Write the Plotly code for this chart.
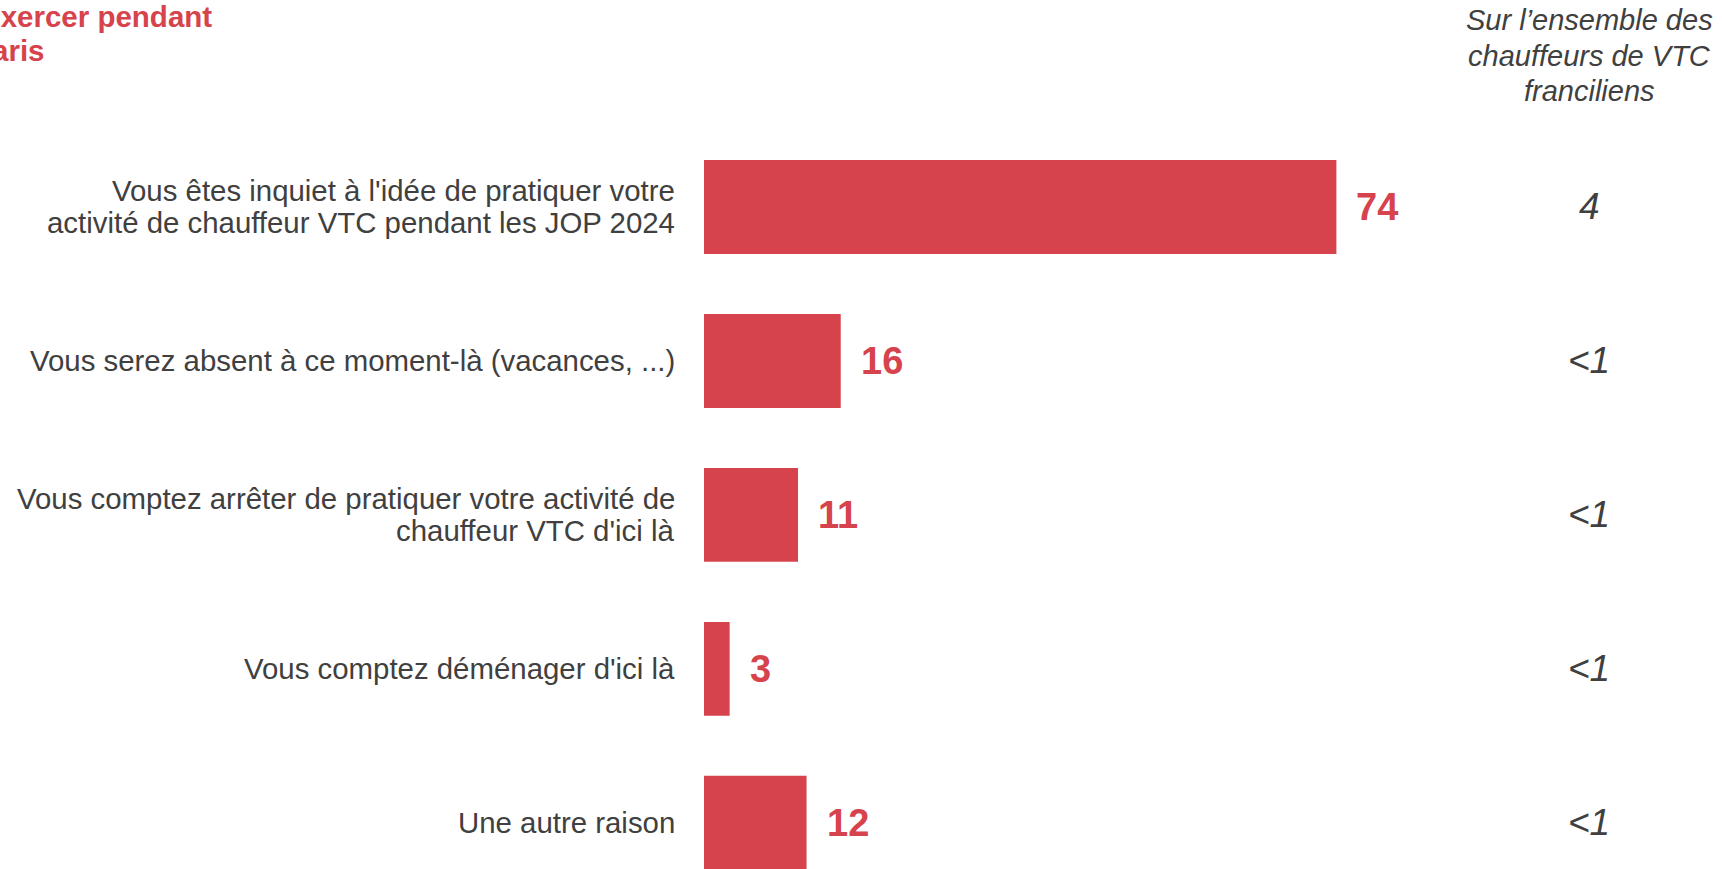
import plotly.graph_objects as go

categories = [
    "Vous êtes inquiet à l'idée de pratiquer votre<br>activité de chauffeur VTC pendant les JOP 2024",
    "Vous serez absent à ce moment-là (vacances, ...)",
    "Vous comptez arrêter de pratiquer votre activité de<br>chauffeur VTC d'ici là",
    "Vous comptez déménager d'ici là",
    "Une autre raison",
]
values = [74, 16, 11, 3, 12]
ensemble = ["4", "<1", "<1", "<1", "<1"]
header = ["Sur l’ensemble des", "chauffeurs de VTC", "franciliens"]
title = ["Raisons de ne pas exercer pendant", "les JOP 2024 à Paris"]

red = "#D6434C"
grey = "#404040"
font = "Liberation Sans"

W, H = 1722, 869
L, T = 703.5, 130
px_per_unit = 8.55
plot_w = W - L
plot_h = H - T


def py(ypx):
    # pixel row -> paper y
    return (H - ypx) / plot_h


def px(xpx):
    return (xpx - L) / plot_w


fig = go.Figure()
fig.add_trace(go.Bar(
    x=values, y=list(range(len(categories))), orientation="h",
    marker=dict(color=red, line=dict(width=0)),
    width=0.61, hoverinfo="skip",
))

ann = []
for i, (cat, v, e) in enumerate(zip(categories, values, ensemble)):
    lines = cat.split("<br>")
    n = len(lines)
    for j, line in enumerate(lines):
        ann.append(dict(x=0, y=i, xref="paper", yref="y", text=line, showarrow=False,
                        xanchor="right", yanchor="middle", xshift=-27,
                        yshift=((n - 1) / 2 - j) * 32,
                        font=dict(family=font, size=29.4, color=grey)))
    ann.append(dict(x=v, y=i, xref="x", yref="y", text="<b>%d</b>" % v, showarrow=False,
                    xanchor="left", yanchor="middle", xshift=18,
                    font=dict(family=font, size=38, color=red)))
    ann.append(dict(x=px(1589), y=i, xref="paper", yref="y", text="<i>%s</i>" % e.replace("<", "&lt;"),
                    showarrow=False, xanchor="center", yanchor="middle",
                    font=dict(family=font, size=37, color=grey)))

for j, line in enumerate(header):
    ann.append(dict(x=px(1589), y=py(20 + j * 35.7), xref="paper", yref="paper",
                    text="<i>%s</i>" % line, showarrow=False,
                    xanchor="center", yanchor="middle",
                    font=dict(family=font, size=29, color=grey)))

ann.append(dict(x=px(213), y=py(16), xref="paper", yref="paper",
                text="<b>%s</b>" % title[0], showarrow=False,
                xanchor="right", yanchor="middle", font=dict(family=font, size=29.5, color=red)))
ann.append(dict(x=px(46), y=py(50), xref="paper", yref="paper",
                text="<b>%s</b>" % title[1], showarrow=False,
                xanchor="right", yanchor="middle", font=dict(family=font, size=29.5, color=red)))

fig.update_layout(
    width=W, height=H,
    margin=dict(l=L, r=0, t=T, b=0),
    paper_bgcolor="white", plot_bgcolor="white",
    showlegend=False,
    annotations=ann,
    xaxis=dict(range=[0, plot_w / px_per_unit], visible=False),
    yaxis=dict(range=[4.3, -0.5], visible=False),
)

# drop the default page margin so the figure starts at the window corner
fig.write_html("out.html", config={"displayModeBar": False},
               post_script="document.body.style.margin = '0';")
